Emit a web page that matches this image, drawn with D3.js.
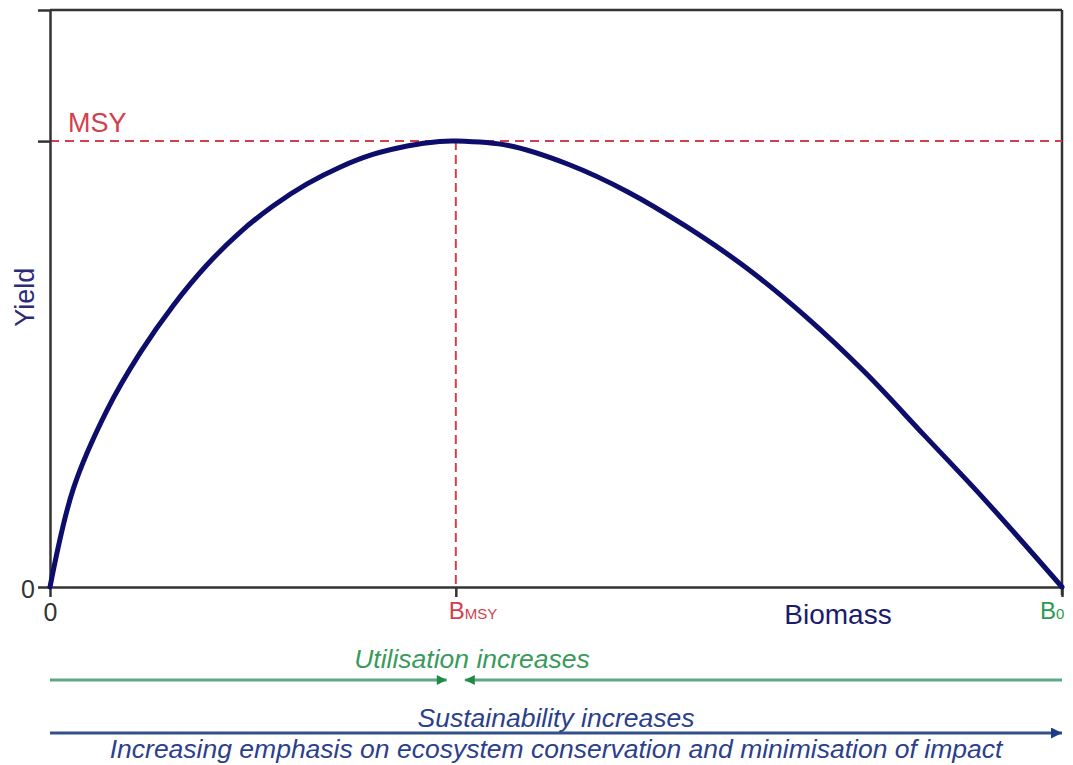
<!DOCTYPE html>
<html>
<head>
<meta charset="utf-8">
<script src="https://cdn.jsdelivr.net/npm/d3@7"></script>
<style>
  body { margin: 0; background: #fff; }
  svg { display: block; font-family: "Liberation Sans", Arial, sans-serif; }
  .axis path, .axis line { stroke: #333; stroke-width: 2.5; }
  .axis text { font-size: 25px; fill: #333; font-family: "Liberation Sans", Arial, sans-serif; }
</style>
</head>
<body>
<div id="chart"></div>
<script>
// biomass as % of B0, yield as % of MSY
const biomass = [0, 2.3, 5.6, 8.9, 12.2, 15.5, 18.8, 22.0, 25.4, 28.7, 31.9, 35.3, 38.5, 40.1,
                 45.3, 51.2, 57.1, 62.9, 68.8, 74.6, 80.5, 86.4, 92.2, 100];
const yieldPct = [0, 22.0, 39.5, 52.5, 63.2, 72.2, 79.6, 85.4, 90.4, 94.2, 97.0, 98.9, 99.9, 100,
                  99.0, 94.8, 88.6, 80.8, 71.6, 60.8, 48.2, 34.0, 20.0, 0];
const BMSY = 40.1;
const MSY = 100;
const Y_TOP = 129.4;

const W = 1073, H = 765;
const pad = {l: 50, r: 11, t: 10, b: 178};

const svg = d3.select('#chart').append('svg')
  .attr('width', W).attr('height', H);

const x = d3.scaleLinear().domain([0, 100]).range([pad.l, W - pad.r]);
const y = d3.scaleLinear().domain([0, Y_TOP]).range([H - pad.b, pad.t]);

// box top + right
svg.append('line')
  .attr('x1', x(0)).attr('x2', x(100)).attr('y1', y(Y_TOP)).attr('y2', y(Y_TOP))
  .attr('stroke', '#333').attr('stroke-width', 2.5);
svg.append('line')
  .attr('x1', x(100)).attr('x2', x(100)).attr('y1', y(Y_TOP)).attr('y2', y(0) + 8)
  .attr('stroke', '#333').attr('stroke-width', 2.5);

// MSY reference lines
const red = '#d2404e';
svg.append('line')
  .attr('x1', x(0)).attr('x2', x(100)).attr('y1', y(MSY)).attr('y2', y(MSY))
  .attr('stroke', red).attr('stroke-width', 2).attr('stroke-dasharray', '9,6');
svg.append('line')
  .attr('x1', x(BMSY)).attr('x2', x(BMSY)).attr('y1', y(MSY)).attr('y2', y(0))
  .attr('stroke', red).attr('stroke-width', 2).attr('stroke-dasharray', '9,5');

// axes
svg.append('g').classed('axis', true)
  .attr('transform', `translate(${x(0)},0)`)
  .call(d3.axisLeft(y).tickValues([0, MSY, Y_TOP]).tickSize(12).tickSizeOuter(0)
    .tickFormat(d => d === 0 ? '0' : ''))
  .call(g => g.selectAll('text').attr('dy', '0.4em'));
svg.append('g').classed('axis', true)
  .attr('transform', `translate(0,${y(0)})`)
  .call(d3.axisBottom(x).tickValues([0, BMSY, 100]).tickSize(10).tickSizeOuter(0)
    .tickFormat(d => d === 0 ? '0' : ''))
  .call(g => g.selectAll('text').attr('dy', '0.85em'));

// curve
const pts = biomass.map((b, i) => [b, yieldPct[i]]);
svg.append('path')
  .datum(pts)
  .attr('fill', 'none')
  .attr('stroke', '#0d0d6b')
  .attr('stroke-width', 5)
  .attr('stroke-linecap', 'round')
  .attr('d', d3.line().x(d => x(d[0])).y(d => y(d[1])).curve(d3.curveCatmullRom.alpha(0.5)));

// labels
svg.append('text')
  .attr('x', x(0) + 18).attr('y', y(MSY) - 9)
  .attr('fill', red).attr('font-size', 27).text('MSY');

svg.append('text')
  .attr('transform', `translate(${x(0) - 16},${y(65)}) rotate(-90)`)
  .attr('text-anchor', 'middle')
  .attr('fill', '#2b2b7a').attr('font-size', 27).text('Yield');

const bm = svg.append('text')
  .attr('x', x(BMSY) - 7).attr('y', y(0) + 32)
  .attr('fill', red).attr('font-size', 24);
bm.append('tspan').text('B');
bm.append('tspan').attr('font-size', 15).text('MSY');

const b0 = svg.append('text')
  .attr('x', x(100) - 22).attr('y', y(0) + 32)
  .attr('fill', '#2e9a50').attr('font-size', 24);
b0.append('tspan').text('B');
b0.append('tspan').attr('font-size', 15).text('0');

svg.append('text')
  .attr('x', 838).attr('y', y(0) + 37)
  .attr('text-anchor', 'middle')
  .attr('fill', '#1c1c6e').attr('font-size', 28).text('Biomass');

// arrows below the chart
const defs = svg.append('defs');
const marker = (id, color, w, h) => defs.append('marker')
  .attr('id', id).attr('viewBox', '0 0 10 10')
  .attr('refX', 10).attr('refY', 5)
  .attr('markerWidth', w).attr('markerHeight', h)
  .attr('markerUnits', 'userSpaceOnUse')
  .attr('orient', 'auto-start-reverse')
  .append('path').attr('d', 'M0,0L10,5L0,10Z').attr('fill', color);
marker('arrGreen', '#1f8a45', 13, 10);
marker('arrBlue', '#1f3c8c', 15, 11);

const greenY = 680, blueY = 733;
svg.append('line')
  .attr('x1', x(0)).attr('x2', x(BMSY) - 9).attr('y1', greenY).attr('y2', greenY)
  .attr('stroke', '#5ea883').attr('stroke-width', 3)
  .attr('marker-end', 'url(#arrGreen)');
svg.append('line')
  .attr('x1', x(100)).attr('x2', x(BMSY) + 9).attr('y1', greenY).attr('y2', greenY)
  .attr('stroke', '#5ea883').attr('stroke-width', 3)
  .attr('marker-end', 'url(#arrGreen)');
svg.append('line')
  .attr('x1', x(0)).attr('x2', x(100)).attr('y1', blueY).attr('y2', blueY)
  .attr('stroke', '#34508a').attr('stroke-width', 3)
  .attr('marker-end', 'url(#arrBlue)');

svg.append('text')
  .attr('x', 472).attr('y', greenY - 12)
  .attr('text-anchor', 'middle').attr('font-style', 'italic')
  .attr('fill', '#3a9a5c').attr('font-size', 26.5).text('Utilisation increases');
svg.append('text')
  .attr('x', 556).attr('y', blueY - 6)
  .attr('text-anchor', 'middle').attr('font-style', 'italic')
  .attr('fill', '#2c3f8c').attr('font-size', 26.5).text('Sustainability increases');
svg.append('text')
  .attr('x', 556).attr('y', blueY + 25)
  .attr('text-anchor', 'middle').attr('font-style', 'italic')
  .attr('fill', '#2c3f8c').attr('font-size', 26.5)
  .text('Increasing emphasis on ecosystem conservation and minimisation of impact');
</script>
</body>
</html>
